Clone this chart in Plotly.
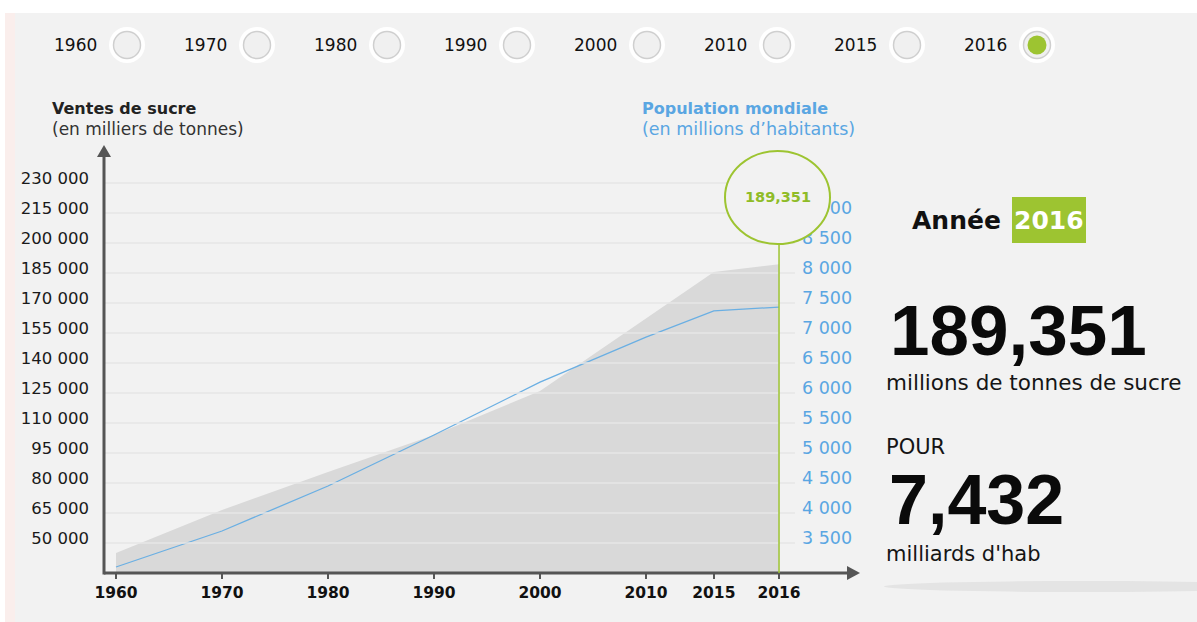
import plotly.graph_objects as go

# ---------------- data ----------------
years = ["1960", "1970", "1980", "1990", "2000", "2010", "2015", "2016"]
sugar_kt = [45000, 66500, 85500, 104000, 126000, 162500, 185500, 189351]   # milliers de tonnes
population_m = [3100, 3700, 4450, 5300, 6180, 6930, 7370, 7432]            # millions d'habitants

left_ticks = [50000, 65000, 80000, 95000, 110000, 125000, 140000, 155000,
              170000, 185000, 200000, 215000, 230000]
right_ticks = [3500, 4000, 4500, 5000, 5500, 6000, 6500, 7000, 7500, 8000, 8500, 9000]

selected_year = "2016"
sugar_label = "189,351"
pop_label = "7,432"

# ---------------- layout helpers ----------------
W, H = 1197, 622
L, R, T, B = 104, 795, 150, 573          # plot area in pixels
# horizontal slot of each year on the x axis (the original axis is not linear in time)
x_slots = [0, 10, 20, 30, 40, 50, 56.4, 62.55]
x_range = [-12 / 10.6, (R - 116) / 10.6]
y_range = [35000, 246500]
y2_range = [3000, 10050]


def px(x):
    return (x - L) / (R - L)


def py(y):
    return (B - y) / (B - T)


def fmt(v):
    return f"{v:,}".replace(",", " ")


GREEN = "#9dc431"
BLUE = "#5aa6e2"
AXIS = "#555555"
BG = "#f2f2f2"
SANS = "DejaVu Sans"
ARIAL = "Liberation Sans, Arial"

fig = go.Figure()

fig.add_trace(go.Scatter(
    x=x_slots, y=sugar_kt, mode="lines", fill="tozeroy",
    fillcolor="#d9d9d9", line=dict(width=0, color="#d9d9d9"),
    hoverinfo="skip", showlegend=False))

fig.add_trace(go.Scatter(
    x=x_slots, y=population_m, mode="lines", yaxis="y2",
    line=dict(width=1.3, color="#6aafe3"),
    hoverinfo="skip", showlegend=False))

shapes = []
# page decorations
shapes.append(dict(type="rect", xref="paper", yref="paper", x0=px(0), x1=px(W), y0=py(0), y1=py(13),
                   fillcolor="white", line=dict(width=0), layer="below"))
shapes.append(dict(type="rect", xref="paper", yref="paper", x0=px(0), x1=px(5), y0=py(13), y1=py(H),
                   fillcolor="white", line=dict(width=0), layer="below"))
shapes.append(dict(type="rect", xref="paper", yref="paper", x0=px(5), x1=px(15), y0=py(13), y1=py(H),
                   fillcolor="#faeeec", line=dict(width=0), layer="below"))

# gridlines (above the area, as in the original)
for v in left_ticks:
    shapes.append(dict(type="line", xref="paper", yref="y", x0=0, x1=1, y0=v, y1=v,
                       line=dict(color="#e6e6e6", width=1.5), layer="above"))

# axes with arrows
shapes.append(dict(type="line", xref="paper", yref="paper", x0=px(L), x1=px(850), y0=py(B), y1=py(B),
                   line=dict(color=AXIS, width=3), layer="above"))
shapes.append(dict(type="path", xref="paper", yref="paper",
                   path=f"M {px(847)},{py(566)} L {px(860)},{py(573)} L {px(847)},{py(580)} Z",
                   fillcolor=AXIS, line=dict(width=0), layer="above"))
shapes.append(dict(type="line", xref="paper", yref="paper", x0=px(L), x1=px(L), y0=py(B + 1.5), y1=py(155),
                   line=dict(color=AXIS, width=3), layer="above"))
shapes.append(dict(type="path", xref="paper", yref="paper",
                   path=f"M {px(97)},{py(157)} L {px(104)},{py(145)} L {px(111)},{py(157)} Z",
                   fillcolor=AXIS, line=dict(width=0), layer="above"))

# selected-year marker
sel = years.index(selected_year)
shapes.append(dict(type="line", xref="x", yref="paper", x0=x_slots[sel], x1=x_slots[sel],
                   y0=py(B), y1=py(244), line=dict(color=GREEN, width=1.5), layer="above"))
shapes.append(dict(type="circle", xref="paper", yref="paper", x0=px(725), x1=px(830), y0=py(244), y1=py(151),
                   fillcolor=BG, line=dict(color=GREEN, width=2), layer="above"))

# right panel decorations
shapes.append(dict(type="rect", xref="paper", yref="paper", x0=px(1012), x1=px(1086), y0=py(243), y1=py(197),
                   fillcolor=GREEN, line=dict(width=0), layer="above"))
shapes.append(dict(type="circle", xref="paper", yref="paper", x0=px(884), x1=px(1290), y0=py(592), y1=py(581),
                   fillcolor="#e4e4e4", line=dict(width=0), layer="above"))

annotations = []
# year selector row
for i, yr in enumerate(years):
    cx = 127 + 130 * i
    annotations.append(dict(text=yr, xref="paper", yref="paper", x=px(75 + 130 * i), y=py(45),
                            xanchor="center", yanchor="middle", showarrow=False,
                            font=dict(family=SANS, size=17, color="#111")))
    shapes.append(dict(type="circle", xref="paper", yref="paper", x0=px(cx - 18), x1=px(cx + 18),
                       y0=py(45 + 18), y1=py(45 - 18), fillcolor="white", line=dict(width=0), layer="above"))
    shapes.append(dict(type="circle", xref="paper", yref="paper", x0=px(cx - 13.5), x1=px(cx + 13.5),
                       y0=py(45 + 13.5), y1=py(45 - 13.5), fillcolor="#f0f0f0",
                       line=dict(color="#cfcfcf", width=1.5), layer="above"))
    if yr == selected_year:
        shapes.append(dict(type="circle", xref="paper", yref="paper", x0=px(cx - 9.5), x1=px(cx + 9.5),
                           y0=py(45 + 9.5), y1=py(45 - 9.5), fillcolor=GREEN, line=dict(width=0), layer="above"))


def text(t, x, y, size, color="#111", family=SANS, bold=False, anchor="left"):
    annotations.append(dict(text=t, xref="paper", yref="paper", x=px(x), y=py(y),
                            xanchor=anchor, yanchor="middle", showarrow=False, borderpad=0,
                            font=dict(family=family, size=size, color=color,
                                      weight="bold" if bold else "normal")))


text("Ventes de sucre", 51, 109, 16, "#222", bold=True)
text("(en milliers de tonnes)", 51, 129, 17, "#333")
text("Population mondiale", 641, 109, 16, BLUE, bold=True)
text("(en millions d’habitants)", 641, 129, 17.5, BLUE)
text(sugar_label, 778, 197, 14.5, "#8fbc27", bold=True, anchor="center")

text("Année", 911, 220, 25, "#111", bold=True)
text(selected_year, 1049, 220, 25, "white", bold=True, anchor="center")
text(sugar_label, 889, 330, 71, "#0a0a0a", family=ARIAL, bold=True)
text("millions de tonnes de sucre", 885, 382, 21.5, "#151515")
text("POUR", 885, 447, 21, "#151515")
text(pop_label, 888, 500, 70, "#0a0a0a", family=ARIAL, bold=True)
text("milliards d'hab", 885, 554, 21, "#151515")

fig.update_layout(
    width=W, height=H,
    margin=dict(l=L, r=W - R, t=T, b=H - B, pad=0),
    paper_bgcolor=BG, plot_bgcolor=BG,
    showlegend=False,
    xaxis=dict(range=x_range, tickvals=x_slots, ticktext=years, showgrid=False, zeroline=False,
               showline=False, ticks="outside", ticklen=5, tickwidth=2, tickcolor=AXIS,
               tickfont=dict(family=SANS, size=15.5, color="#111", weight="bold"),
               fixedrange=True),
    yaxis=dict(range=y_range, tickvals=left_ticks, ticktext=[fmt(v) for v in left_ticks],
               showgrid=False, zeroline=False, showline=False, ticks="",
               ticklabelshift=-5, ticklabelstandoff=14,
               tickfont=dict(family=SANS, size=16.5, color="#1a1a1a"), fixedrange=True),
    yaxis2=dict(range=y2_range, overlaying="y", side="right", tickvals=right_ticks,
                ticktext=[fmt(v) for v in right_ticks], showgrid=False, zeroline=False,
                showline=False, ticks="", ticklabelshift=-5, ticklabelstandoff=6,
                tickfont=dict(family=SANS, size=17.5, color=BLUE), fixedrange=True),
    shapes=shapes,
    annotations=annotations,
)

fig.write_html("out.html", config={"displayModeBar": False})
